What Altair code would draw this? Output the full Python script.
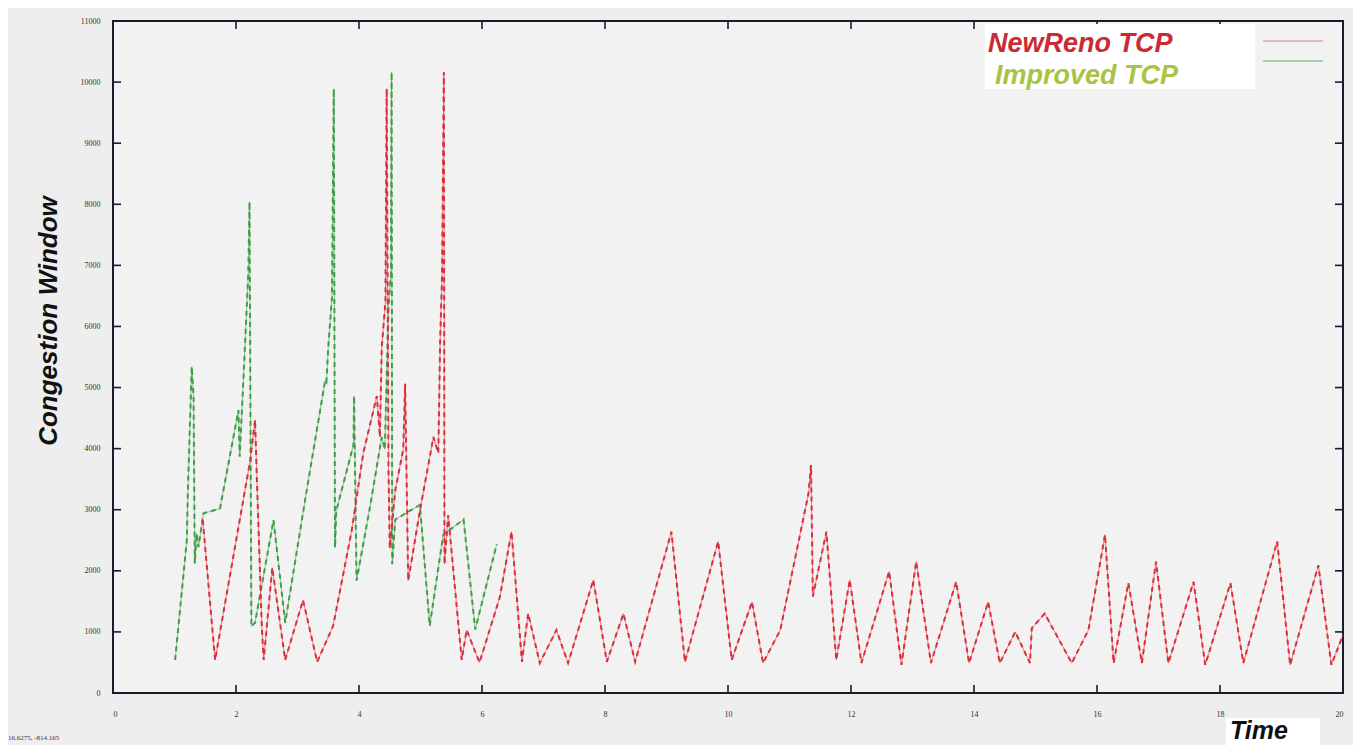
import altair as alt
import pandas as pd

# ---------------- data ----------------
series_names = ["NewReno TCP", "Improved TCP"]

red_x = [1.46, 1.66, 2.23, 2.31, 2.34, 2.42, 2.45, 2.59, 2.80, 3.09, 3.32, 3.58, 3.88, 4.07,
         4.29, 4.34, 4.37, 4.43, 4.45, 4.48, 4.50, 4.59, 4.72, 4.75, 4.80, 4.99, 5.21, 5.29,
         5.32, 5.35, 5.38, 5.39, 5.45, 5.67, 5.75, 5.96, 6.29, 6.48, 6.65, 6.75, 6.94, 7.21,
         7.40, 7.81, 8.03, 8.30, 8.49, 9.08, 9.30, 9.84, 10.06, 10.39, 10.57, 10.85, 11.31,
         11.35, 11.38, 11.60, 11.76, 11.98, 12.17, 12.62, 12.82, 13.06, 13.30, 13.71, 13.92,
         14.23, 14.42, 14.67, 14.91, 14.94, 15.15, 15.59, 15.86, 16.13, 16.27, 16.51, 16.73,
         16.96, 17.16, 17.57, 17.76, 18.17, 18.38, 18.93, 19.14, 19.60, 19.81, 20.0]
red_y = [2830, 540, 3800, 4470, 3490, 1080, 540, 2050, 540, 1520, 510, 1100, 2650, 3930,
         4860, 4190, 5660, 6400, 9890, 3650, 2370, 3320, 3990, 5060, 1840, 2980, 4190, 3930,
         5790, 6800, 10160, 2110, 2910, 540, 1030, 500, 1570, 2640, 510, 1300, 490, 1030,
         490, 1850, 510, 1300, 510, 2640, 510, 2480, 540, 1490, 490, 1030, 3270,
         3730, 1580, 2640, 540, 1850, 490, 1990, 460, 2150, 490, 1820, 490,
         1490, 490, 1000, 490, 1060, 1300, 490, 1030, 2590, 490, 1800, 490,
         2150, 490, 1820, 460, 1800, 490, 2480, 460, 2090, 460, 950]

green_x = [1.01, 1.20, 1.22, 1.28, 1.31, 1.33, 1.36, 1.39, 1.47, 1.74, 2.04, 2.06, 2.12, 2.20,
           2.22, 2.25, 2.31, 2.61, 2.80, 3.15, 3.45, 3.47, 3.50, 3.56, 3.59, 3.61, 3.63, 3.91,
           3.92, 3.96, 4.18, 4.37, 4.42, 4.48, 4.52, 4.53, 4.54, 4.59, 4.99, 5.15, 5.37, 5.70,
           5.89, 6.24]
green_y = [540, 2500, 3380, 5340, 4850, 2120, 2610, 2390, 2940, 3020, 4630, 3870, 5120, 6870,
           8040, 1090, 1150, 2830, 1150, 3320, 5120, 5090, 5660, 6470, 9890, 2380, 2980, 4060,
           4860, 1840, 3050, 4190, 3990, 6330, 6870, 10160, 2110, 2840, 3080, 1100, 2590, 2840,
           1040, 2440]

x_ticks = [0, 2, 4, 6, 8, 10, 12, 14, 16, 18, 20]
y_ticks = [0, 1000, 2000, 3000, 4000, 5000, 6000, 7000, 8000, 9000, 10000, 11000]

# ---------------- styling ----------------
W, H = 1230, 672
RED = "#dc2f3c"
GREEN = "#3f9e46"
FRAME = "#1b1b2b"
LABEL_FONT = "Liberation Serif"
TITLE_FONT = "Liberation Sans"

xs = alt.Scale(domain=[0, 20], nice=False, zero=False)
ys = alt.Scale(domain=[0, 11000], nice=False, zero=False)

xaxis = alt.Axis(values=x_ticks, title=None, domain=False, ticks=False, grid=False,
                 labelFontSize=8, labelFont=LABEL_FONT, labelColor="#333333",
                 labelPadding=17, format="d")
yaxis = alt.Axis(values=y_ticks, title=None, domain=False, ticks=False, grid=False,
                 labelFontSize=8, labelFont=LABEL_FONT, labelColor="#333333",
                 labelPadding=13, format="d")


def series_layers(xv, yv, name, color):
    df = pd.DataFrame({"t": xv, "cwnd": yv, "i": list(range(len(xv))), "s": name})
    base = alt.Chart(df).encode(
        x=alt.X("t:Q", scale=xs, axis=xaxis),
        y=alt.Y("cwnd:Q", scale=ys, axis=yaxis),
        order=alt.Order("i:Q"),
    )
    thin = base.mark_line(color=color, strokeWidth=0.8, opacity=0.75)
    dash = base.mark_line(color=color, strokeWidth=2.0, strokeDash=[5, 4])
    return [thin, dash]


layers = []
layers += series_layers(green_x, green_y, series_names[1], GREEN)
layers += series_layers(red_x, red_y, series_names[0], RED)

ydf = pd.DataFrame({"v": y_ticks})
xdf = pd.DataFrame({"v": x_ticks[1:-1]})
yenc = alt.Y("v:Q", scale=ys, axis=yaxis)
xenc = alt.X("v:Q", scale=xs, axis=xaxis)

tick_style = dict(color=FRAME, strokeWidth=1.6)
layers.append(alt.Chart(ydf).mark_rule(**tick_style).encode(y=yenc, x=alt.value(0), x2=alt.value(8)))
layers.append(alt.Chart(ydf).mark_rule(**tick_style).encode(y=yenc, x=alt.value(W - 8), x2=alt.value(W)))
layers.append(alt.Chart(xdf).mark_rule(**tick_style).encode(x=xenc, y=alt.value(H), y2=alt.value(H - 8)))
layers.append(alt.Chart(xdf).mark_rule(**tick_style).encode(x=xenc, y=alt.value(0), y2=alt.value(8)))

# legend box (white) with coloured texts and sample lines
one = pd.DataFrame({"k": [0]})
layers.append(alt.Chart(one).mark_rect(color="white").encode(
    x=alt.value(872), x2=alt.value(1142), y=alt.value(3), y2=alt.value(68)))
layers.append(alt.Chart(pd.DataFrame({"label": [series_names[0]]})).mark_text(
    font=TITLE_FONT, fontSize=27, fontStyle="italic", fontWeight="bold", color="#cc2a33",
    align="left", baseline="alphabetic").encode(text="label:N", x=alt.value(875), y=alt.value(31)))
layers.append(alt.Chart(pd.DataFrame({"label": [series_names[1]]})).mark_text(
    font=TITLE_FONT, fontSize=27, fontStyle="italic", fontWeight="bold", color="#a8c443",
    align="left", baseline="alphabetic").encode(text="label:N", x=alt.value(882), y=alt.value(63)))
layers.append(alt.Chart(one).mark_rule(color="#e07a80", strokeWidth=1).encode(
    x=alt.value(1150), x2=alt.value(1210), y=alt.value(20)))
layers.append(alt.Chart(one).mark_rule(color="#5fae6a", strokeWidth=1).encode(
    x=alt.value(1150), x2=alt.value(1210), y=alt.value(40)))

# axis titles
layers.append(alt.Chart(pd.DataFrame({"label": ["Congestion Window"]})).mark_text(
    font=TITLE_FONT, fontSize=26, fontStyle="italic", fontWeight="bold", color="#111111",
    angle=270, align="center", baseline="alphabetic").encode(
    text="label:N", x=alt.value(-56), y=alt.value(300)))
layers.append(alt.Chart(one).mark_rect(color="white").encode(
    x=alt.value(1113), x2=alt.value(1207), y=alt.value(697), y2=alt.value(724)))
layers.append(alt.Chart(pd.DataFrame({"label": ["Time"]})).mark_text(
    font=TITLE_FONT, fontSize=25, fontStyle="italic", fontWeight="bold", color="#111111",
    align="left", baseline="alphabetic").encode(text="label:N", x=alt.value(1117), y=alt.value(718)))
layers.append(alt.Chart(pd.DataFrame({"label": ["16.6275, -814.165"]})).mark_text(
    font=LABEL_FONT, fontSize=7, color="#333333", align="left", baseline="alphabetic").encode(
    text="label:N", x=alt.value(-105), y=alt.value(719)))

chart = alt.layer(*layers).properties(
    width=W, height=H,
    autosize=alt.AutoSizeParams(type="none"),
    padding={"left": 105, "top": 13, "right": 10, "bottom": 52},
    background="#eeeeee",
).configure_view(stroke=FRAME, strokeWidth=2, fill="#f2f2f2")

chart.save("out.html", embed_options={"renderer": "svg", "actions": False})
